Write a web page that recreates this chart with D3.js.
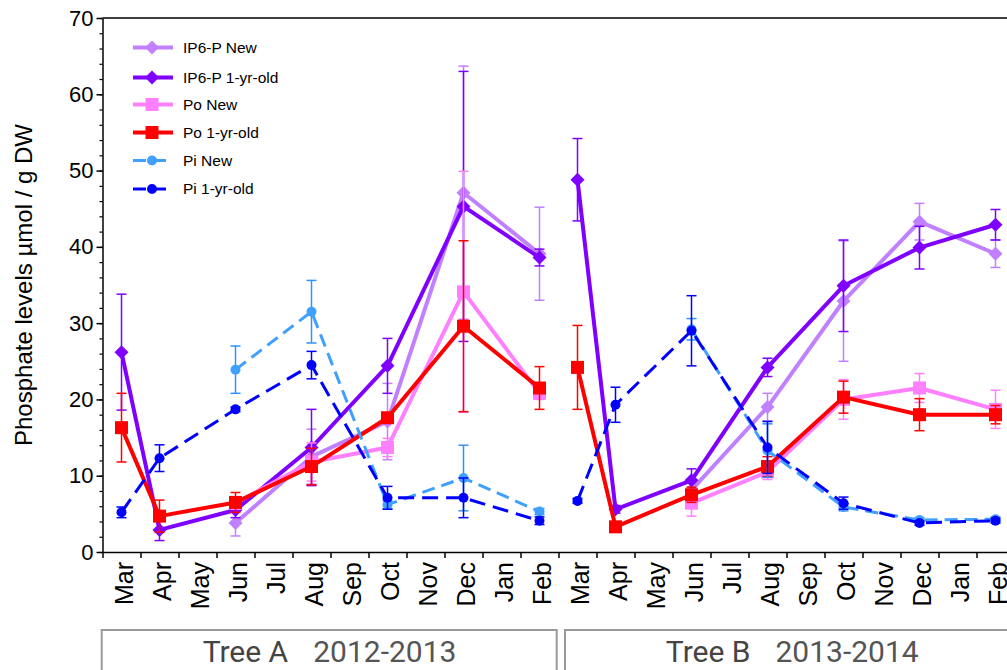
<!DOCTYPE html>
<html>
<head>
<meta charset="utf-8">
<script src="https://cdn.jsdelivr.net/npm/d3@7"></script>
<style>
  html, body { margin: 0; padding: 0; background: #fff; overflow: hidden; }
  svg { display: block; }
</style>
</head>
<body>
<svg id="chart" width="1007" height="670"></svg>
<script>
// Month labels along the axis (two consecutive sampling years)
const months = ["Mar","Apr","May","Jun","Jul","Aug","Sep","Oct","Nov","Dec","Jan","Feb"];
// Months actually sampled (index into months)
const sampledMonths = [0, 1, 3, 5, 7, 9, 11];
const trees = ["Tree A", "Tree B"];
const treeYears = ["2012-2013", "2013-2014"];
const yTicks = [0, 10, 20, 30, 40, 50, 60, 70];

// Means per sampled month: [Tree A], [Tree B]
const ip6New      = [[null, null, 3.8, 12.5, 17.1, 47.1, 39.1], [null, null, 8.1, 19.0, 32.9, 43.3, 39.1]];
const ip6NewErr   = [[null, null, 1.7, 3.6, 5.0, 16.6, 6.1],    [null, null, 1.0, 1.8, 7.9, 2.4, 1.8]];
const ip6Old      = [[26.2, 2.9, 5.5, 13.7, 24.4, 45.3, 38.6],  [48.8, 5.6, 9.4, 24.2, 34.9, 39.9, 42.9]];
const ip6OldErr   = [[7.6, 1.4, 1.0, 5.0, 3.6, 17.7, 1.1],      [5.4, 0.5, 1.5, 1.2, 6.0, 2.8, 2.0]];
const poNew       = [[null, null, 6.4, 11.8, 13.7, 34.1, 20.8], [null, null, 6.4, 10.5, 20.0, 21.5, 18.7]];
const poNewErr    = [[null, null, 0.8, 2.5, 1.2, 15.8, 0.8],    [null, null, 1.7, 1.0, 2.6, 1.9, 2.5]];
const poOld       = [[16.3, 4.7, 6.5, 11.2, 17.6, 29.6, 21.5],  [24.2, 3.3, 7.5, 11.2, 20.3, 18.0, 18.0]];
const poOldErr    = [[4.5, 2.1, 1.3, 2.4, 0.6, 11.2, 2.8],      [5.5, 0.4, 1.0, 1.3, 2.1, 2.1, 1.2]];
const piNew       = [[null, null, 23.9, 31.5, 6.2, 9.7, 5.3],   [null, null, 29.2, 13.3, 5.9, 4.2, 4.3]];
const piNewErr    = [[null, null, 3.1, 4.1, 0.5, 4.3, 0.4],     [null, null, 1.4, 3.5, 0.5, 0.3, 0.3]];
const piOld       = [[5.2, 12.3, 18.7, 24.5, 7.1, 7.1, 4.1],    [6.7, 19.3, 29.0, 13.7, 6.4, 3.8, 4.1]];
const piOldErr    = [[0.7, 1.75, 0.3, 1.8, 1.5, 2.6, 0.5],      [0.3, 2.3, 4.6, 3.4, 0.8, 0.3, 0.3]];

const seriesNames = ["IP6-P New", "IP6-P 1-yr-old", "Po New", "Po 1-yr-old", "Pi New", "Pi 1-yr-old"];

const series = [
  { name: seriesNames[0], vals: ip6New, errs: ip6NewErr, color: "#c080ff", errColor: "#c080ff", shape: "diamond", width: 4, dash: null },
  { name: seriesNames[1], vals: ip6Old, errs: ip6OldErr, color: "#7f00ff", errColor: "#7f00ff", shape: "diamond", width: 4, dash: null },
  { name: seriesNames[2], vals: poNew,  errs: poNewErr,  color: "#ff80ff", errColor: "#ff80ff", shape: "square",  width: 4, dash: null },
  { name: seriesNames[3], vals: poOld,  errs: poOldErr,  color: "#ff0000", errColor: "#ff0000", shape: "square",  width: 4, dash: null },
  { name: seriesNames[4], vals: piNew,  errs: piNewErr,  color: "#40a0ff", errColor: "#2f90ff", shape: "circle",  width: 3, dash: "13,7" },
  { name: seriesNames[5], vals: piOld,  errs: piOldErr,  color: "#0000ff", errColor: "#0000ff", shape: "circle",  width: 3, dash: "16,8" }
];

const svg = d3.select("#chart");

const axisLeft = 102.5, plotTop = 18, plotBottom = 552;
const allMonths = d3.range(trees.length * months.length);
const x = d3.scaleBand().domain(allMonths).range([axisLeft, axisLeft + 38 * allMonths.length]).padding(0);
const xEdge = d3.scaleLinear().domain([0, allMonths.length]).range(x.range());
const y = d3.scaleLinear().domain([0, 70]).range([plotBottom, plotTop]);
const cx = i => x(i) + x.bandwidth() / 2;

// Marker shapes as d3 symbol types (size = half-width in px)
const shapes = {
  diamond: { draw(ctx, s) { ctx.moveTo(0, -s); ctx.lineTo(s, 0); ctx.lineTo(0, s); ctx.lineTo(-s, 0); ctx.closePath(); } },
  square:  { draw(ctx, s) { ctx.rect(-s, -s, 2 * s, 2 * s); } },
  circle:  { draw(ctx, s) { ctx.moveTo(s, 0); ctx.arc(0, 0, s, 0, 2 * Math.PI); } }
};
const shapeSize = { diamond: 7, square: 6.5, circle: 5 };
const symbolPath = shape => d3.symbol().type(shapes[shape]).size(shapeSize[shape])();

// Frame: top border
svg.append("line")
  .attr("x1", axisLeft).attr("x2", xEdge.range()[1])
  .attr("y1", plotTop).attr("y2", plotTop)
  .attr("stroke", "#000").attr("stroke-width", 1.5);

// Y axis with major and minor ticks
const yMinor = svg.append("g").attr("transform", `translate(${axisLeft},0)`)
  .call(d3.axisLeft(y).tickValues(d3.range(0, 71, 2)).tickSize(3).tickFormat(""));
yMinor.select(".domain").remove();
yMinor.selectAll("line").attr("stroke", "#000").attr("stroke-width", 1.2);

const yAxis = svg.append("g").attr("transform", `translate(${axisLeft},0)`)
  .call(d3.axisLeft(y).tickValues(yTicks).tickSize(6).tickSizeOuter(0).tickPadding(3));
yAxis.select(".domain").attr("stroke", "#000").attr("stroke-width", 1.5);
yAxis.selectAll("line").attr("stroke", "#000").attr("stroke-width", 1.5);
yAxis.selectAll("text")
  .attr("font-family", "'Liberation Sans', Arial, sans-serif")
  .attr("font-size", 22).attr("fill", "#000");

// X axis: ticks at month boundaries
const xAxis = svg.append("g").attr("transform", `translate(0,${plotBottom})`)
  .call(d3.axisBottom(xEdge).tickValues(d3.range(0, allMonths.length + 1)).tickSize(6).tickSizeOuter(0).tickFormat(""));
xAxis.select(".domain").attr("stroke", "#000").attr("stroke-width", 1.5);
xAxis.selectAll("line").attr("stroke", "#000").attr("stroke-width", 1.5);

// Month labels, rotated
svg.append("g").selectAll("text")
  .data(allMonths)
  .join("text")
  .attr("transform", i => `translate(${cx(i) + 11},562) rotate(-90)`)
  .attr("text-anchor", "end")
  .attr("font-family", "'Liberation Sans', Arial, sans-serif")
  .attr("font-size", 25)
  .attr("fill", "#000")
  .text(i => months[i % months.length]);

// Y axis title
svg.append("text")
  .attr("transform", `translate(32,${(plotTop + plotBottom) / 2}) rotate(-90)`)
  .attr("text-anchor", "middle")
  .attr("font-family", "'Liberation Sans', Arial, sans-serif")
  .attr("font-size", 24)
  .attr("fill", "#000")
  .text("Phosphate levels µmol / g DW");

// Tree / year boxes beneath the axis
const treeBoxes = [[101.7, 556.7], [565, 1018]];
const treeG = svg.append("g").selectAll("g").data(trees).join("g");
treeG.append("rect")
  .attr("x", (d, k) => treeBoxes[k][0]).attr("y", 630)
  .attr("width", (d, k) => treeBoxes[k][1] - treeBoxes[k][0]).attr("height", 60)
  .attr("fill", "none").attr("stroke", "#9a9a9a").attr("stroke-width", 2);
treeG.append("text")
  .attr("x", (d, k) => (treeBoxes[k][0] + treeBoxes[k][1]) / 2 - 41)
  .attr("y", 662)
  .attr("text-anchor", "end")
  .attr("font-family", "Roboto, 'Noto Sans', sans-serif")
  .attr("font-size", 30).attr("fill", "#444")
  .text(d => d);
treeG.append("text")
  .attr("x", (d, k) => (treeBoxes[k][0] + treeBoxes[k][1]) / 2 - 16)
  .attr("y", 662)
  .attr("text-anchor", "start")
  .attr("font-family", "Roboto, 'Noto Sans', sans-serif")
  .attr("font-size", 30).attr("fill", "#555")
  .text((d, k) => treeYears[k]);

// Data series
const line = d3.line().defined(p => p.v != null).x(p => cx(p.i)).y(p => y(p.v));
const plot = svg.append("g");

series.forEach(s => {
  const segments = s.vals.map((tv, t) => tv.map((v, j) => ({
    i: t * months.length + sampledMonths[j], v, e: s.errs[t][j]
  })));
  const pts = segments.flat().filter(p => p.v != null);
  const g = plot.append("g");

  // error bars
  const eb = g.append("g").attr("stroke", s.errColor).attr("stroke-width", 1.5).attr("fill", "none");
  pts.filter(p => p.e != null).forEach(p => {
    const x0 = cx(p.i);
    eb.append("line").attr("x1", x0).attr("x2", x0).attr("y1", y(p.v + p.e)).attr("y2", y(p.v - p.e));
    [p.v + p.e, p.v - p.e].forEach(v => {
      eb.append("line").attr("x1", x0 - 5).attr("x2", x0 + 5).attr("y1", y(v)).attr("y2", y(v));
    });
  });

  // lines, one per tree
  g.selectAll("path.series-line")
    .data(segments)
    .join("path")
    .attr("class", "series-line")
    .attr("d", line)
    .attr("fill", "none")
    .attr("stroke", s.color)
    .attr("stroke-width", s.width)
    .attr("stroke-linejoin", "round")
    .attr("stroke-dasharray", s.dash);

  // markers
  g.selectAll("path.marker")
    .data(pts)
    .join("path")
    .attr("class", "marker")
    .attr("d", symbolPath(s.shape))
    .attr("transform", p => `translate(${cx(p.i)},${y(p.v)})`)
    .attr("fill", s.color);
});

// Legend
const legendRows = [47.5, 77.5, 104.5, 132.5, 160.5, 189];
const legend = svg.append("g").selectAll("g").data(series).join("g")
  .attr("transform", (s, k) => `translate(0,${legendRows[k]})`);
legend.append("line")
  .attr("x1", 133).attr("x2", 173).attr("y1", 0).attr("y2", 0)
  .attr("stroke", s => s.color)
  .attr("stroke-width", s => s.width)
  .attr("stroke-dasharray", s => s.dash ? "13,7" : null);
legend.append("path")
  .attr("d", s => symbolPath(s.shape))
  .attr("transform", "translate(152,0)")
  .attr("fill", s => s.color);
legend.append("text")
  .attr("x", 183).attr("y", 0).attr("dy", "0.35em")
  .attr("font-family", "'Liberation Sans', Arial, sans-serif")
  .attr("font-size", 15.5)
  .attr("fill", "#000")
  .text(s => s.name);
</script>
</body>
</html>
